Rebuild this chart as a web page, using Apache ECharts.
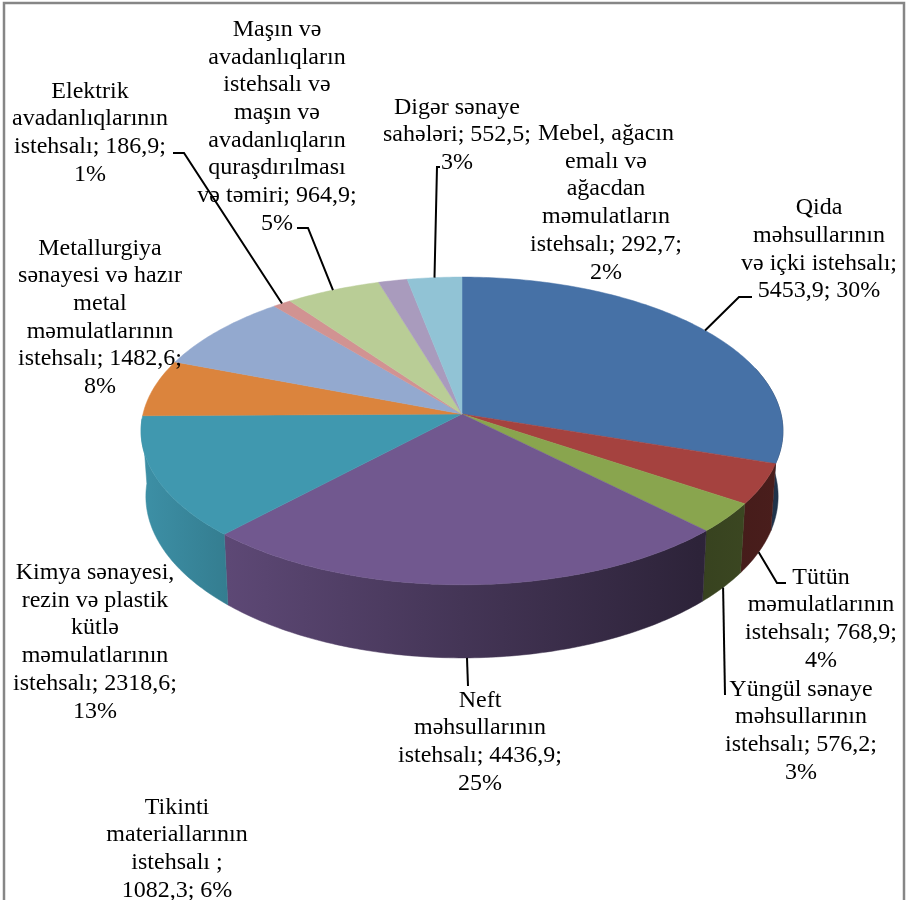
<!DOCTYPE html>
<html>
<head>
<meta charset="utf-8">
<style>html,body{margin:0;padding:0;background:#fff}#chart{width:907px;height:900px}</style>
<script src="https://cdn.jsdelivr.net/npm/echarts@6/dist/echarts.min.js"></script>
</head>
<body>
<div id="chart"></div>
<script>
// values, clockwise from 12 o'clock
var categories = ['Qida', 'Tütün', 'Yüngül', 'Neft', 'Kimya', 'Tikinti', 'Metallurgiya', 'Elektrik', 'Maşın', 'Mebel', 'Digər'];
var values = [5453.9, 768.9, 576.2, 4436.9, 2318.6, 1082.3, 1482.6, 186.9, 964.9, 292.7, 552.5];
var percents = [30, 4, 3, 25, 13, 6, 8, 1, 5, 2, 3];
var labelTexts = [
    'Qida\nməhsullarının\nvə içki istehsalı;\n{v}; {p}%',
    'Tütün\nməmulatlarının\nistehsalı; {v};\n{p}%',
    'Yüngül sənaye\nməhsullarının\nistehsalı; {v};\n{p}%',
    'Neft\nməhsullarının\nistehsalı; {v};\n{p}%',
    'Kimya sənayesi,\nrezin və plastik\nkütlə\nməmulatlarının\nistehsalı; {v};\n{p}%',
    'Tikinti\nmateriallarının\nistehsalı ;\n{v}; {p}%',
    'Metallurgiya\nsənayesi və hazır\nmetal\nməmulatlarının\nistehsalı; {v};\n{p}%',
    'Elektrik\navadanlıqlarının\nistehsalı; {v};\n{p}%',
    'Maşın və\navadanlıqların\nistehsalı və\nmaşın və\navadanlıqların\nquraşdırılması\nvə təmiri; {v};\n{p}%',
    'Mebel, ağacın\nemalı və\nağacdan\nməmulatların\nistehsalı; {v};\n{p}%',
    'Digər sənaye\nsahələri; {v};\n{p}%'
];
var colors = ['#4671a6', '#a5423f', '#89a54e', '#71588f', '#4098af', '#db843d', '#93a9cf', '#d19392', '#b9cd96', '#a99bbd', '#91c3d5'];

// label centres, same order as above
var labelCentres = [[819, 249.5], [821, 619], [801, 731], [480, 742], [95, 642], [177, 849], [100, 317.5], [90, 133], [277, 126.5], [606, 203], [457, 135]];
// leader lines: the rest of the polyline after the slice edge. null = no leader
var leaderBends = [
    [[739, 297], [752, 297]],
    [[777, 583], [786, 583]],
    [[725, 695]],
    [[468, 686]],
    null, null, null,
    [[184, 153], [173, 153]],
    [[308, 228], [297, 228]],
    null,
    [[437, 167], [440, 167]]
];

// pie geometry in perspective
var cx = 462, cy = 414, radiusX = 319, radiusY = 152, tilt = 0.11;
var total = values.reduce(function (a, b) { return a + b; }, 0);

function project(angle, lower) {
    var u = Math.sin(angle), v = Math.cos(angle);
    var f = 1 / (1 + tilt * v);
    var x = cx + radiusX * u * f;
    var y = cy - radiusY * v * f;
    if (lower) {
        // bottom rim sits lower and a little narrower
        x = cx + (x - cx) * 0.985;
        y = y + 64.6 + 0.05 * (y - cy);
    }
    return [x, y];
}

function sliceAngles(index) {
    var before = 0;
    for (var i = 0; i < index; i++) before += values[i];
    return [before / total * Math.PI * 2, (before + values[index]) / total * Math.PI * 2];
}

function arc(start, end, lower) {
    var pts = [], n = Math.max(2, Math.ceil((end - start) / 0.015));
    for (var i = 0; i <= n; i++) pts.push(project(start + (end - start) * i / n, lower));
    return pts;
}

function shadeColor(hex, k) {
    var n = parseInt(hex.slice(1), 16);
    return 'rgb(' + Math.round((n >> 16 & 255) * k) + ',' + Math.round((n >> 8 & 255) * k) + ',' + Math.round((n & 255) * k) + ')';
}

function wallFill(hex) {
    return new echarts.graphic.LinearGradient(141, 0, 782, 0, [
        { offset: 0, color: shadeColor(hex, 0.95) },
        { offset: 0.135, color: shadeColor(hex, 0.82) },
        { offset: 0.5, color: shadeColor(hex, 0.6) },
        { offset: 0.87, color: shadeColor(hex, 0.4) },
        { offset: 1, color: shadeColor(hex, 0.45) }
    ], true);
}

function renderWall(params) {
    var a = sliceAngles(params.dataIndex);
    // only the front of the drum shows, back walls would poke out at the left edge
    var start = Math.max(a[0], Math.PI * 0.4), end = Math.min(a[1], Math.PI * 1.49);
    if (end <= start) return null;
    var pts = arc(start, end, false).concat(arc(start, end, true).reverse());
    var fill = wallFill(colors[params.dataIndex]);
    return { type: 'polygon', shape: { points: pts }, style: { fill: fill, stroke: fill, lineWidth: 0.5 } };
}

function renderTop(params) {
    var a = sliceAngles(params.dataIndex);
    var c = colors[params.dataIndex];
    return { type: 'polygon', shape: { points: [[cx, cy]].concat(arc(a[0], a[1], false)) }, style: { fill: c, stroke: c, lineWidth: 0.5 } };
}

function renderLabel(params, api) {
    var i = params.dataIndex;
    var text = labelTexts[i].replace('{v}', String(api.value(0)).replace('.', ',')).replace('{p}', percents[i]);
    var children = [];
    if (leaderBends[i]) {
        var a = sliceAngles(i), mid = (a[0] + a[1]) / 2;
        var front = Math.cos(mid) < 0;
        children.push({
            type: 'polyline',
            shape: { points: [project(mid, front)].concat(leaderBends[i]) },
            style: { fill: null, stroke: '#000', lineWidth: 2 }
        });
    }
    children.push({
        type: 'text',
        x: labelCentres[i][0],
        y: labelCentres[i][1],
        style: {
            text: text,
            align: 'center',
            verticalAlign: 'middle',
            font: '24px "Liberation Serif"',
            lineHeight: 27.7,
            fill: '#000'
        }
    });
    return { type: 'group', children: children };
}

var myChart = echarts.init(document.getElementById('chart'));
var option = {
    animation: false,
    graphic: [{
        type: 'rect',
        shape: { x: 4, y: 3, width: 900, height: 920 },
        style: { fill: null, stroke: '#868686', lineWidth: 2.5 },
        silent: true
    }],
    series: [
        { type: 'custom', coordinateSystem: 'none', data: values, renderItem: renderWall, z: 1 },
        { type: 'custom', coordinateSystem: 'none', data: values, renderItem: renderTop, z: 2 },
        { type: 'custom', coordinateSystem: 'none', data: values, renderItem: renderLabel, z: 3 }
    ]
};
myChart.setOption(option);
</script>
</body>
</html>
